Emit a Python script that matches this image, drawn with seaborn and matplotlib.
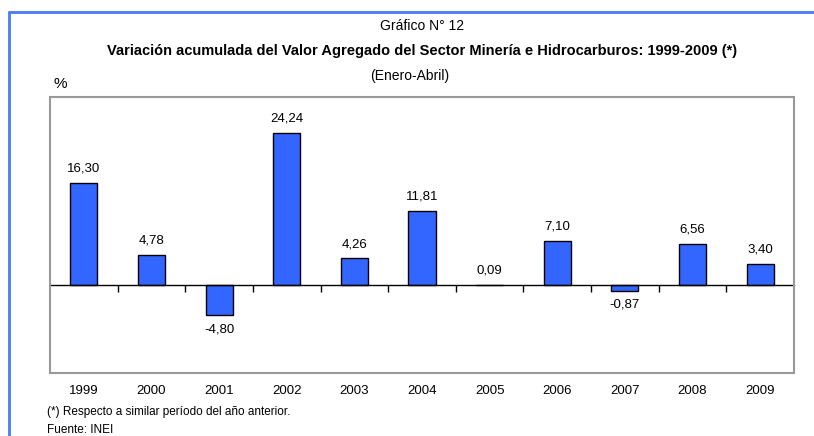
import matplotlib
matplotlib.use("Agg")
import matplotlib.pyplot as plt
import matplotlib.patches as mpatches
import matplotlib.lines as mlines
import seaborn as sns
import pandas as pd

years = ["1999", "2000", "2001", "2002", "2003", "2004", "2005", "2006", "2007", "2008", "2009"]
values = [16.30, 4.78, -4.80, 24.24, 4.26, 11.81, 0.09, 7.10, -0.87, 6.56, 3.40]

sns.set_theme(style="white")
plt.rcParams['font.family'] = ['Liberation Sans', 'DejaVu Sans']
plt.rcParams['text.color'] = 'black'
plt.rcParams['xtick.color'] = 'black'
plt.rcParams['xtick.labelcolor'] = 'black'

df = pd.DataFrame({"year": years, "value": values})

fig = plt.figure(figsize=(8.14, 4.36), dpi=100)
ax = fig.add_axes([50/814, 1-373/436, 744/814, 276/436])

sns.barplot(data=df, x="year", y="value", color="#3366FF", saturation=1,
            width=0.4, edgecolor="black", linewidth=1.0, ax=ax)
ax.set_ylim(-14, 30)
ax.set_xlim(-0.5, len(years) - 0.5)
ax.set_xlabel("")
ax.set_ylabel("")
ax.set_yticks([])

for s in ["top", "right", "left"]:
    ax.spines[s].set_visible(False)
ax.spines["bottom"].set_position(("data", 0))
ax.spines["bottom"].set_color("black")
ax.spines["bottom"].set_linewidth(1.0)
ax.set_xticks(range(len(years)))
ax.set_xticklabels([])
ax.tick_params(axis="x", which="major", length=0)
ax.set_xticks([i + 0.5 for i in range(len(years) - 1)], minor=True)
ax.tick_params(axis="x", which="minor", bottom=True, direction="out", length=5, width=1, color="black")

# gray box
ax.add_patch(mpatches.Rectangle((0, 0), 1, 1, transform=ax.transAxes, fill=False,
                                edgecolor="#999999", linewidth=1.5, clip_on=False, zorder=5))

sec = ax.secondary_xaxis(-0.035)
sec.set_xticks(range(len(years)))
sec.set_xticklabels(years, fontsize=9.5, color="black")
sec.tick_params(length=0, pad=2)
sec.spines["bottom"].set_visible(False)

for i, v in enumerate(values):
    lab = f"{v:.2f}".replace(".", ",")
    if v >= 0:
        ax.annotate(lab, (i, v), xytext=(0, 6), textcoords="offset points",
                    ha="center", va="bottom", fontsize=9.5, color="black")
    else:
        ax.annotate(lab, (i, v), xytext=(0, -6), textcoords="offset points",
                    ha="center", va="top", fontsize=9.5, color="black")

fig.text(422/814, 1-26/436, "Gráfico N° 12", ha="center", va="center", fontsize=10)
fig.text(422/814, 1-51/436, "Variación acumulada del Valor Agregado del Sector Minería e Hidrocarburos: 1999-2009 (*)",
         ha="center", va="center", fontsize=10.5, fontweight="bold")
fig.text(410/814, 1-76/436, "(Enero-Abril)", ha="center", va="center", fontsize=10)
fig.text(53/814, 1-84/436, "%", ha="left", va="center", fontsize=11)
fig.text(47/814, 1-412/436, "(*) Respecto a similar período del año anterior.", ha="left", va="center", fontsize=8.5)
fig.text(47/814, 1-430/436, "Fuente: INEI", ha="left", va="center", fontsize=8.5)

# blue frame
fig.add_artist(mlines.Line2D([9/814, 1], [1-12/436, 1-12/436], transform=fig.transFigure, color="#4A7BF7", linewidth=2))
fig.add_artist(mlines.Line2D([9/814, 9/814], [0, 1-12/436], transform=fig.transFigure, color="#4A7BF7", linewidth=2))

fig.savefig("out.png", dpi=100)
